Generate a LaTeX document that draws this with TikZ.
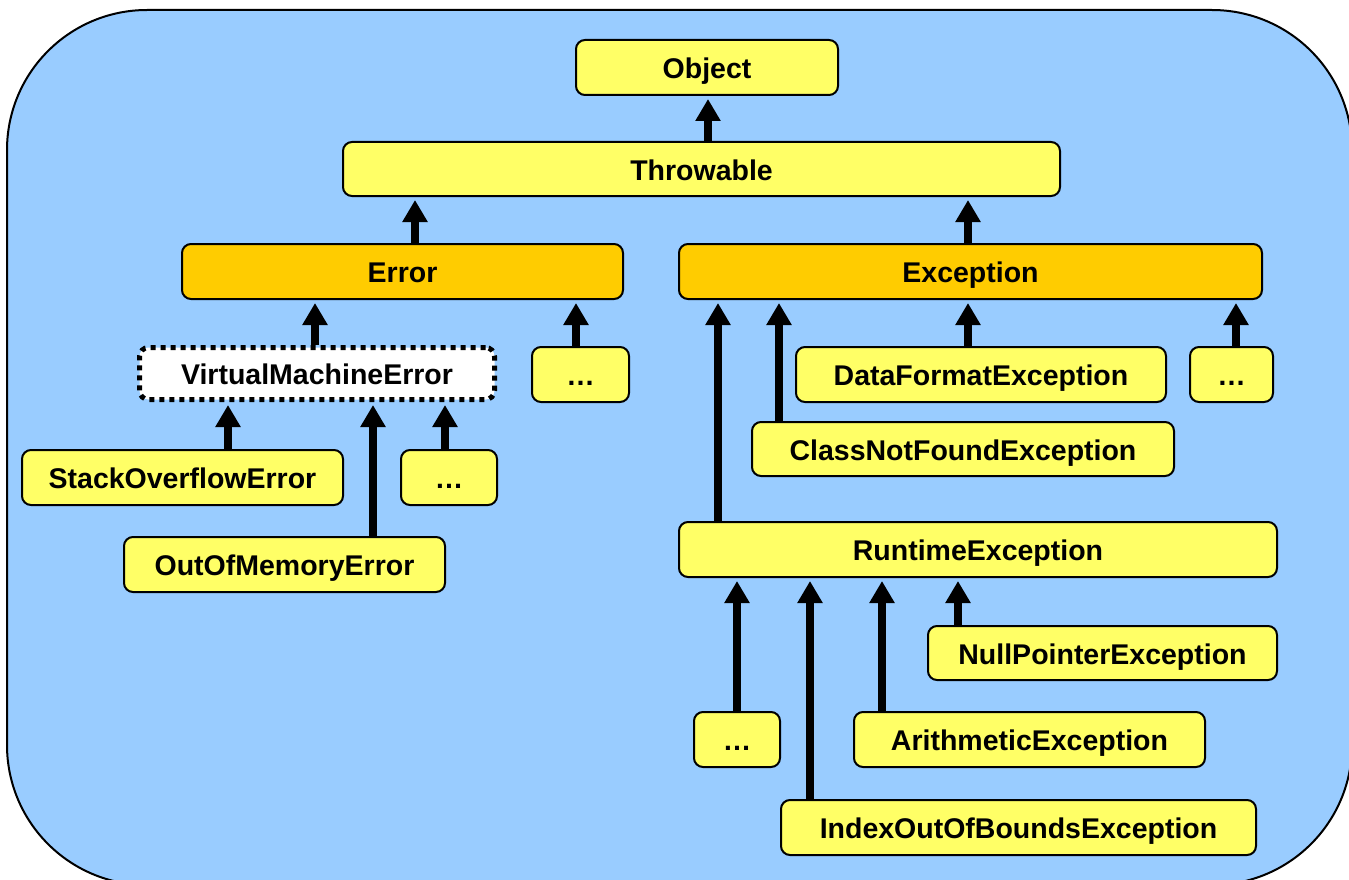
\documentclass[tikz,border=0pt]{standalone}
\usepackage{fontspec}
\setmainfont{Liberation Sans}
\usetikzlibrary{arrows.meta}
\definecolor{bgblue}{HTML}{99CCFF}
\definecolor{clsyellow}{HTML}{FFFF66}
\definecolor{baseorange}{HTML}{FFCC00}
\tikzset{
  cls/.style={draw, line width=2pt, rounded corners=9pt, fill=clsyellow,
    inner sep=0pt, text height=22pt, text depth=0pt,
    font=\bfseries\fontsize{28.5}{32}\selectfont},
  base/.style={cls, fill=baseorange},
  abstr/.style={cls, fill=white, line width=5pt, dash pattern=on 5pt off 5pt},
  up/.style={line width=8pt, -{Triangle[width=24pt,length=22pt]}, shorten >=3pt},
}
\begin{document}
\begin{tikzpicture}[x=1pt,y=-1pt]
  \useasboundingbox (0,0) rectangle (1349,880);
  % Hintergrund
  \draw[fill=bgblue, line width=2pt, rounded corners=140pt] (7,10) rectangle (1352,885);

  % Wurzel
  \node[cls, minimum width=262pt, minimum height=55pt] (object) at (707,67.5) {Object};
  \node[cls, minimum width=717pt, minimum height=54pt] (throwable) at (701.5,169) {Throwable};
  \node[base, minimum width=441pt, minimum height=55pt] (error) at (402.5,271.5) {Error};
  \node[base, minimum width=583pt, minimum height=55pt] (exception) at (970.5,271.5) {Exception};

  % Fehler
  \node[abstr, minimum width=355pt, minimum height=52pt] (vme) at (317,373.5) {VirtualMachineError};
  \node[cls, minimum width=97pt, minimum height=55pt] (errmore) at (580.5,374.5) {\dots};
  \node[cls, minimum width=321pt, minimum height=55pt] (stack) at (182.5,477.5) {StackOverflowError};
  \node[cls, minimum width=96pt, minimum height=55pt] (vmemore) at (449,477.5) {\dots};
  \node[cls, minimum width=321pt, minimum height=55pt] (oom) at (284.5,564.5) {OutOfMemoryError};

  % Ausnahmen
  \node[cls, minimum width=370pt, minimum height=55pt] (dataformat) at (981,374.5) {DataFormatException};
  \node[cls, minimum width=83pt, minimum height=55pt] (excmore) at (1231.5,374.5) {\dots};
  \node[cls, minimum width=422pt, minimum height=54pt] (classnf) at (963,449) {ClassNotFoundException};
  \node[cls, minimum width=598pt, minimum height=55pt] (runtime) at (978,549.5) {RuntimeException};
  \node[cls, minimum width=349pt, minimum height=54pt] (nullptr) at (1102.5,653) {NullPointerException};
  \node[cls, minimum width=86pt, minimum height=55pt] (rtmore) at (737,739.5) {\dots};
  \node[cls, minimum width=351pt, minimum height=55pt] (arith) at (1029.5,739.5) {ArithmeticException};
  \node[cls, minimum width=475pt, minimum height=55pt] (index) at (1018.5,827.5) {IndexOutOfBoundsException};

  % Vererbung
  \draw[up] (throwable.north -| 708,0) -- (object.south -| 708,0);
  \draw[up] (error.north -| 415,0) -- (throwable.south -| 415,0);
  \draw[up] (exception.north -| 968,0) -- (throwable.south -| 968,0);
  \draw[up] (vme.north -| 315,0) -- (error.south -| 315,0);
  \draw[up] (errmore.north -| 576,0) -- (error.south -| 576,0);
  \draw[up] (stack.north -| 228,0) -- (vme.south -| 228,0);
  \draw[up] (oom.north -| 373,0) -- (vme.south -| 373,0);
  \draw[up] (vmemore.north -| 445,0) -- (vme.south -| 445,0);
  \draw[up] (runtime.north -| 718,0) -- (exception.south -| 718,0);
  \draw[up] (classnf.north -| 779,0) -- (exception.south -| 779,0);
  \draw[up] (dataformat.north -| 968,0) -- (exception.south -| 968,0);
  \draw[up] (excmore.north -| 1236,0) -- (exception.south -| 1236,0);
  \draw[up] (rtmore.north) -- (runtime.south -| rtmore.north);
  \draw[up] (index.north -| 810,0) -- (runtime.south -| 810,0);
  \draw[up] (arith.north -| 882,0) -- (runtime.south -| 882,0);
  \draw[up] (nullptr.north -| 958,0) -- (runtime.south -| 958,0);
\end{tikzpicture}
\end{document}
